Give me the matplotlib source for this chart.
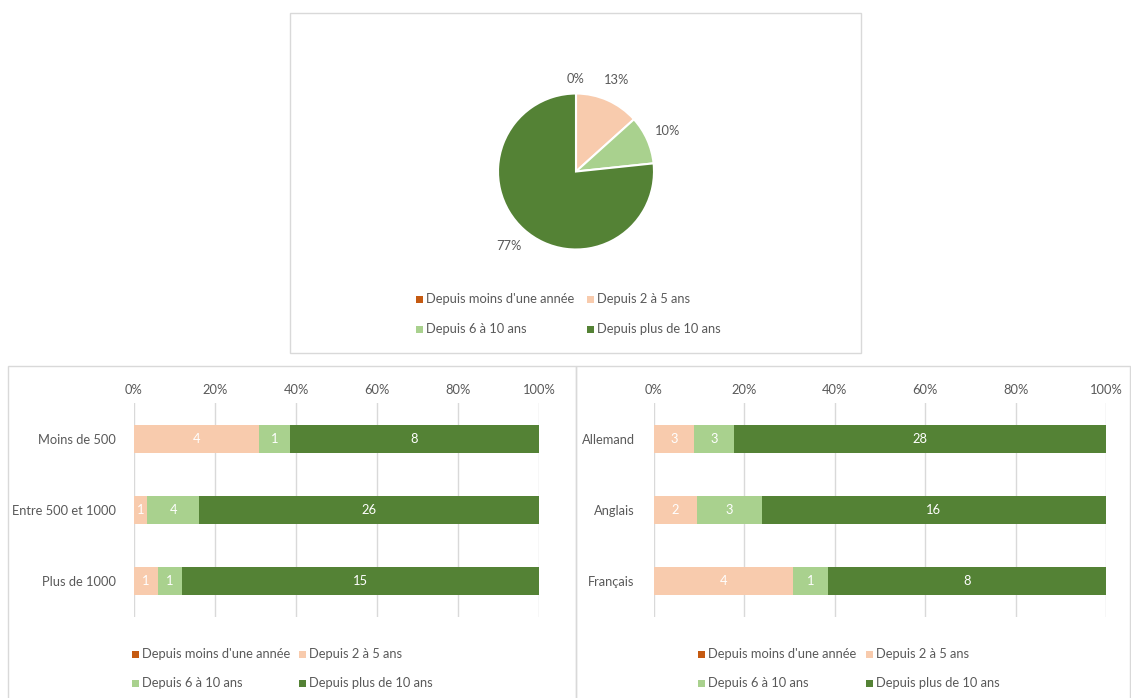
import numpy as np
import matplotlib.pyplot as plt
from matplotlib.patches import Rectangle

# Ancienneté des répondants : vue globale, par taille et par langue
series = ["Depuis moins d'une année", "Depuis 2 à 5 ans",
          "Depuis 6 à 10 ans", "Depuis plus de 10 ans"]
couleurs = ["#C55A11", "#F8CBAD", "#A9D18E", "#548235"]

pie_valeurs = [0, 4, 3, 23]

tailles = ["Moins de 500", "Entre 500 et 1000", "Plus de 1000"]
taille_moins_un_an = [0, 0, 0]
taille_2_5 = [4, 1, 1]
taille_6_10 = [1, 4, 1]
taille_plus_10 = [8, 26, 15]

langues = ["Allemand", "Anglais", "Français"]
langue_moins_un_an = [0, 0, 0]
langue_2_5 = [3, 2, 4]
langue_6_10 = [3, 3, 1]
langue_plus_10 = [28, 16, 8]

pct_ticks = [0, 20, 40, 60, 80, 100]

W, H = 1131, 698
GRIS = "#595959"
GRILLE = "#D9D9D9"
plt.rcParams['font.family'] = ['Lato', 'DejaVu Sans']
FS = 9.3

fig = plt.figure(figsize=(W / 100, H / 100), dpi=100)


def px_box(x0, y0, x1, y1):
    """Pixel box (top-left origin) -> figure fraction rect."""
    return [x0 / W, 1 - y1 / H, (x1 - x0) / W, (y1 - y0) / H]


def cadre(x0, y0, x1, y1):
    r = px_box(x0, y0, x1, y1)
    fig.patches.append(Rectangle((r[0], r[1]), r[2], r[3], transform=fig.transFigure,
                                 fill=False, edgecolor=GRILLE, linewidth=1))


def legende(xs_marque, ys, labels, cols):
    # two columns, two rows, Excel-like square markers
    for i, (lab, c) in enumerate(zip(labels, cols)):
        x = xs_marque[i % 2]
        y = ys[i // 2]
        fig.patches.append(Rectangle((x / W, 1 - (y + 3.5) / H), 7 / W, 7 / H,
                                     transform=fig.transFigure, color=c, lw=0))
        fig.text((x + 10) / W, 1 - y / H, lab, color=GRIS, fontsize=FS,
                 va='center', ha='left')


def barres(rect, cats, valeurs, xlab_pad):
    ax = fig.add_axes(rect)
    data = np.array(valeurs, dtype=float)
    parts = data / data.sum(axis=0) * 100
    y = np.arange(len(cats))
    gauche = np.zeros(len(cats))
    for k in range(len(valeurs)):
        cont = ax.barh(y, parts[k], left=gauche, height=0.39, color=couleurs[k], zorder=3)
        labs = [str(int(v)) if v > 0 else "" for v in data[k]]
        ax.bar_label(cont, labels=labs, label_type='center', color='white', fontsize=FS)
        gauche += parts[k]
    ax.set_xlim(0, 100)
    ax.set_ylim(len(cats) - 0.5, -0.5)
    ax.set_xticks(pct_ticks)
    ax.set_xticklabels([f"{t}%" for t in pct_ticks])
    ax.xaxis.tick_top()
    ax.set_yticks(y)
    ax.set_yticklabels(cats)
    ax.tick_params(axis='both', length=0, colors=GRIS, labelsize=FS)
    ax.tick_params(axis='y', pad=xlab_pad)
    ax.tick_params(axis='x', pad=5)
    ax.grid(axis='x', color=GRILLE, linewidth=1, zorder=0)
    for s in ax.spines.values():
        s.set_visible(False)
    return ax


# camembert global
cadre(290, 13, 861, 353)
cx, cy, r = 576, 171.5, 78
ax_pie = fig.add_axes(px_box(cx - r, cy - r, cx + r, cy + r))
wedges, _, autotexts = ax_pie.pie(
    pie_valeurs, colors=couleurs, startangle=90, counterclock=False,
    autopct='%.0f%%', pctdistance=1.28,
    wedgeprops=dict(edgecolor='white', linewidth=1.5),
    textprops=dict(color=GRIS, fontsize=FS))
autotexts[0].set_position((0, 1.19))
ax_pie.set_xlim(-1, 1)
ax_pie.set_ylim(-1, 1)
ax_pie.set_aspect('equal')
legende([416, 587], [299, 329], series, couleurs)

# répartition par taille
cadre(8, 366, 576, 712)
barres(px_box(134, 403, 539, 617), tailles,
       [taille_moins_un_an, taille_2_5, taille_6_10, taille_plus_10], 13)
legende([132, 299], [654, 683], series, couleurs)

# répartition par langue
cadre(576, 366, 1130, 712)
barres(px_box(654, 403, 1106, 617), langues,
       [langue_moins_un_an, langue_2_5, langue_6_10, langue_plus_10], 14)
legende([698, 866], [654, 683], series, couleurs)

fig.savefig("out.png", dpi=100, facecolor='white')
